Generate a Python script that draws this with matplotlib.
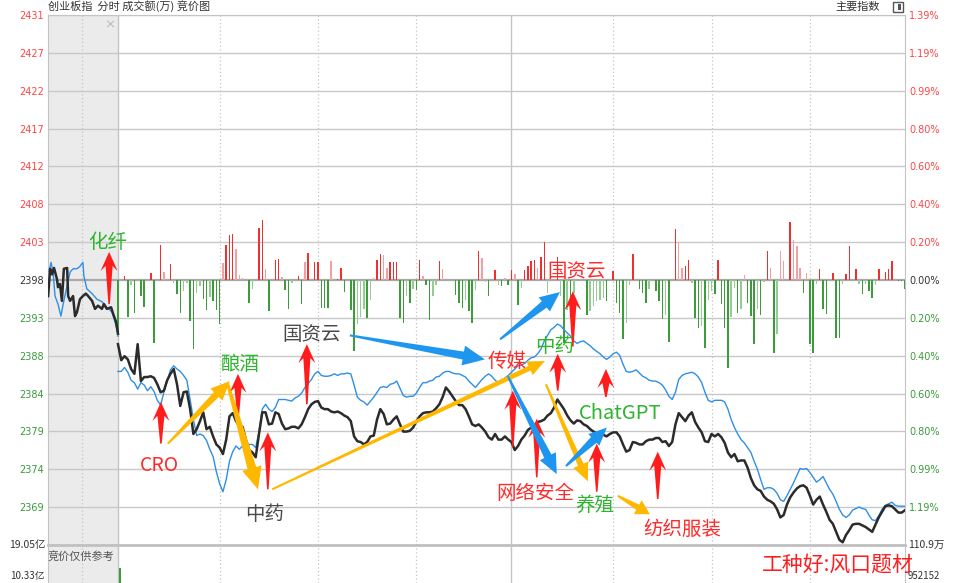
import numpy as np
import matplotlib
matplotlib.use('Agg')
import matplotlib.pyplot as plt
from matplotlib.patches import Polygon, Rectangle

plt.rcParams['font.family'] = ['Noto Sans CJK SC', 'DejaVu Sans']

# reference level (prev close) and one grid step, in index points
PREV_CLOSE = 2398.3
STEP = 4.72

left_labels = ['2431', '2427', '2422', '2417', '2412', '2408', '2403', '2398',
               '2393', '2388', '2384', '2379', '2374', '2369']
right_labels = ['1.39%', '1.19%', '0.99%', '0.80%', '0.60%', '0.40%', '0.20%', '0.00%',
                '0.20%', '0.40%', '0.60%', '0.80%', '0.99%', '1.19%']

# call auction (9:15-9:25), minutes before the open
auction_t = [-21.3, -20.7, -20.1, -19.5, -18.6, -18.3, -17.7, -17.1, -16.5, -15.5,
             -15.2, -14.6, -13.7, -13.1, -12.5, -11.6, -10.7, -9.8, -9.1, -7.9,
             -7.0, -6.1, -4.9, -4.3, -3.4, -2.1, -1.5, -0.6, 0.0]
auction_price = [2396.3, 2399.7, 2399.0, 2399.8, 2398.4, 2397.4, 2397.8, 2395.7, 2399.7, 2399.8,
                 2396.3, 2395.7, 2396.3, 2393.8, 2394.3, 2395.9, 2396.3, 2396.6, 2396.3, 2395.7,
                 2394.7, 2395.1, 2394.7, 2395.3, 2394.7, 2394.9, 2394.1, 2393.1, 2391.6]
auction_avg_t = [-21.0, -20.4, -19.8, -19.2, -18.3, -17.4, -16.8, -16.2, -15.5, -14.6,
                 -13.7, -12.5, -11.6, -10.7, -10.4, -9.5, -7.9, -6.4, -4.9, -3.4,
                 -1.8, -0.3, 0.0]
auction_avg = [2399.4, 2400.5, 2399.3, 2396.3, 2395.3, 2393.8, 2395.1, 2396.3, 2397.6, 2399.3,
               2399.7, 2399.7, 2400.0, 2400.5, 2398.8, 2397.2, 2396.6, 2395.9, 2395.6, 2394.9,
               2394.3, 2392.2, 2391.3]

# session, one value per minute (0 = 9:30, 240 = 15:00)
price = [2390.3, 2388.3, 2388.8, 2388.4, 2387.2, 2386.6, 2390.3, 2385.7, 2386.2, 2386.2,
         2386.3, 2386.1, 2385.3, 2384.3, 2384.5, 2385.8, 2386.6, 2387.2, 2385.3, 2382.6,
         2384.3, 2384.4, 2382.2, 2379.1, 2379.7, 2380.7, 2381.8, 2379.7, 2380.0, 2378.8,
         2377.8, 2377.4, 2376.6, 2378.4, 2381.3, 2381.7, 2380.7, 2380.1, 2380.0, 2378.4,
         2377.1, 2376.8, 2376.2, 2379.1, 2381.8, 2381.8, 2380.3, 2380.4, 2381.8, 2381.6,
         2380.4, 2379.7, 2379.8, 2380.0, 2380.0, 2379.8, 2380.3, 2381.2, 2382.2, 2382.8,
         2383.1, 2383.2, 2382.4, 2382.2, 2382.2, 2381.9, 2381.8, 2381.9, 2381.7, 2381.4,
         2381.2, 2380.7, 2378.8, 2378.2, 2378.1, 2377.8, 2378.1, 2378.8, 2378.9, 2380.9,
         2382.2, 2381.6, 2380.3, 2380.4, 2380.9, 2381.3, 2380.3, 2379.4, 2379.4, 2379.5,
         2379.9, 2380.7, 2381.3, 2381.7, 2381.8, 2381.8, 2381.9, 2382.3, 2382.8, 2383.7,
         2384.9, 2384.4, 2383.8, 2383.2, 2382.7, 2382.7, 2382.2, 2381.3, 2380.3, 2380.1,
         2380.3, 2379.9, 2379.4, 2378.7, 2378.4, 2379.1, 2378.4, 2378.4, 2378.8, 2378.4,
         2378.1, 2377.1, 2377.6, 2378.4, 2378.9, 2379.6, 2379.9, 2380.2, 2380.6, 2380.7,
         2380.9, 2381.4, 2381.7, 2382.4, 2383.4, 2382.8, 2382.2, 2381.4, 2380.8, 2380.4,
         2380.8, 2380.7, 2380.3, 2380.1, 2379.7, 2379.4, 2379.2, 2379.1, 2379.0, 2378.8,
         2379.1, 2379.3, 2379.3, 2378.8, 2377.8, 2376.9, 2377.1, 2378.1, 2378.0, 2377.8,
         2377.8, 2378.2, 2378.4, 2378.4, 2378.6, 2378.6, 2378.1, 2378.2, 2377.6, 2378.1,
         2380.3, 2381.7, 2381.2, 2380.7, 2381.4, 2381.8, 2380.6, 2379.9, 2379.3, 2378.2,
         2378.1, 2379.1, 2378.8, 2379.1, 2378.7, 2378.0, 2376.8, 2376.2, 2376.6, 2375.7,
         2375.8, 2375.8, 2374.9, 2373.6, 2372.7, 2372.2, 2372.0, 2371.3, 2370.9, 2370.7,
         2370.4, 2369.7, 2368.7, 2369.0, 2370.3, 2371.2, 2371.8, 2372.3, 2372.6, 2372.7,
         2372.4, 2371.4, 2370.3, 2370.9, 2371.3, 2370.3, 2369.4, 2368.4, 2367.9, 2366.9,
         2365.9, 2365.6, 2366.5, 2367.1, 2367.8, 2367.9, 2367.9, 2367.7, 2367.5, 2367.2,
         2366.9, 2367.8, 2368.7, 2369.4, 2370.1, 2370.2, 2370.1, 2369.7, 2369.3, 2369.3,
         2369.6]

avg_price = [2386.9, 2386.9, 2387.4, 2386.8, 2385.8, 2385.5, 2384.7, 2385.5, 2385.2, 2384.5,
             2385.0, 2384.4, 2383.3, 2382.7, 2384.3, 2385.7, 2387.1, 2387.6, 2387.2, 2386.9,
             2386.4, 2385.8, 2383.4, 2380.9, 2378.9, 2379.1, 2378.9, 2378.3, 2377.2, 2376.3,
             2374.4, 2372.9, 2371.9, 2373.4, 2375.7, 2376.9, 2377.6, 2377.2, 2377.6, 2377.2,
             2377.8, 2377.8, 2377.4, 2379.4, 2382.2, 2382.8, 2382.2, 2381.9, 2382.4, 2383.4,
             2383.4, 2383.4, 2383.3, 2383.2, 2383.6, 2383.8, 2384.2, 2384.9, 2385.4, 2385.9,
             2386.6, 2386.9, 2386.4, 2386.3, 2386.3, 2386.4, 2386.6, 2386.4, 2386.6, 2386.6,
             2386.7, 2386.6, 2385.2, 2383.7, 2383.3, 2383.1, 2382.7, 2383.2, 2383.7, 2384.3,
             2384.9, 2385.0, 2384.9, 2385.3, 2385.4, 2385.7, 2384.8, 2383.9, 2383.7, 2383.8,
             2383.8, 2384.2, 2384.9, 2385.5, 2385.5, 2385.7, 2385.8, 2386.2, 2386.3, 2386.7,
             2386.9, 2386.9, 2386.7, 2386.6, 2386.6, 2386.4, 2386.2, 2385.7, 2385.3, 2384.9,
             2385.4, 2385.9, 2386.3, 2386.6, 2386.3, 2385.8, 2385.5, 2385.7, 2386.1, 2386.4,
             2386.8, 2387.2, 2387.6, 2387.7, 2387.9, 2388.3, 2388.6, 2388.7, 2389.1, 2389.7,
             2390.7, 2391.4, 2392.1, 2392.4, 2392.8, 2392.6, 2392.1, 2391.7, 2391.3, 2390.7,
             2390.4, 2390.6, 2390.7, 2390.4, 2390.1, 2389.7, 2389.4, 2389.1, 2388.7, 2388.4,
             2388.7, 2389.1, 2389.3, 2388.9, 2387.8, 2386.9, 2386.8, 2386.9, 2387.1, 2386.7,
             2386.3, 2386.1, 2385.8, 2385.7, 2385.7, 2385.5, 2385.2, 2384.6, 2383.8, 2383.4,
             2384.3, 2385.9, 2386.4, 2386.6, 2386.7, 2386.8, 2386.6, 2386.2, 2385.5, 2384.3,
             2383.3, 2383.1, 2383.3, 2383.3, 2383.3, 2383.1, 2382.2, 2380.9, 2379.9, 2379.1,
             2378.4, 2378.0, 2377.4, 2376.8, 2375.7, 2374.7, 2373.4, 2372.2, 2372.4, 2372.4,
             2372.2, 2371.7, 2370.9, 2370.7, 2371.4, 2372.2, 2373.0, 2373.9, 2374.8, 2374.7,
             2374.8, 2374.3, 2373.7, 2373.1, 2373.4, 2373.8, 2373.0, 2372.2, 2371.6, 2370.7,
             2369.7, 2369.0, 2368.7, 2369.0, 2369.6, 2369.8, 2370.0, 2369.8, 2369.7, 2369.0,
             2368.4, 2368.3, 2368.9, 2369.7, 2370.2, 2370.4, 2370.6, 2370.2, 2370.1, 2370.1,
             2370.1]

# red/green bars around the 0.00% line (arbitrary units, one per minute)
flow = [-53, 0, 4, -37, -5, -33, 0, -16, -27, 0,
        7, -63, 0, 35, 8, 0, 16, -3, -14, -33,
        -11, -3, -41, -69, -13, -6, -19, -30, -17, -21,
        -30, -44, 17, 35, 45, 46, 31, 5, 2, 0,
        -23, -9, 0, 52, 60, 11, -31, 0, 20, 21,
        3, -10, -29, -3, 0, 4, -24, 18, 27, 0,
        18, 18, -28, -28, -28, 19, 0, 1, 12, -12,
        0, -30, -71, -44, -37, -29, -38, -20, 2, 20,
        26, 25, 12, 18, 18, 18, -38, -43, -16, -23,
        -9, -10, 20, 4, -5, -40, -16, -5, 19, 11,
        0, 0, 0, -15, -23, -28, -20, -31, -43, -10,
        29, 22, -2, -16, 0, 10, -5, -6, 2, -5,
        10, 6, -25, -8, 10, 14, 19, 20, 12, 23,
        38, -13, 0, 0, 23, -16, -63, -30, -30, -13,
        0, 0, 0, -35, -31, -26, -21, -20, -18, -21,
        0, 9, -23, -33, -59, -43, -5, 26, 0, -9,
        -13, -23, -9, 0, -11, -21, -39, -35, -62, 0,
        51, 38, 12, 14, 20, -3, -38, -48, -46, -68,
        -20, -11, -14, 20, -24, -48, -88, -37, -8, -33,
        -29, 5, -23, -36, -64, -29, -35, -2, 29, 12,
        -73, -54, 29, 19, 0, 58, 40, 34, 12, -13,
        7, -64, -73, -4, 11, -29, -34, 0, 7, -58,
        -58, -4, 6, 34, 0, 11, -4, -14, -4, -11,
        -18, -5, 11, 0, 8, 11, 19, 0, -1, -1,
        -9]

open_vol_t = [0.6]
open_vol = [15]

vgrid_dotted = [-11, 31, 61, 91, 151, 181, 211]
vgrid_solid = [0, 120]

T0, T1 = -21.34, 240.0
Y0, Y1 = PREV_CLOSE - 7 * STEP, PREV_CLOSE + 7 * STEP
PX = (Y1 - Y0) / 530.0   # price units per pixel

RED, GREEN, GRAY = '#ff2a2a', '#2db52d', '#4a4a4a'
YELLOW, BLUE = '#ffb800', '#1e96f0'


def draw_arrow(ax, tail, head, color, w_tail, w_neck, head_w, head_len, sweep=0.0):
    p0 = ax.transData.transform(tail)
    p1 = ax.transData.transform(head)
    d = p1 - p0
    u = d / np.hypot(*d)
    n = np.array([-u[1], u[0]])
    base = p1 - u * head_len
    neck = base + u * sweep
    pts = [p0 + n * w_tail / 2, neck + n * w_neck / 2, base + n * head_w / 2, p1,
           base - n * head_w / 2, neck - n * w_neck / 2, p0 - n * w_tail / 2]
    pts = ax.transData.inverted().transform(np.array(pts))
    ax.add_patch(Polygon(pts, closed=True, facecolor=color, edgecolor='none', zorder=6))


def red_up(ax, t, bottom, top):
    draw_arrow(ax, (t, bottom), (t, top), '#ff1c1c', 1.5, 7, 17, 19, sweep=5)


def main():
    fig = plt.figure(figsize=(9.54, 5.83), dpi=100)
    W, H = 954.0, 583.0
    ax = fig.add_axes([48 / W, 1 - 545 / H, 857 / W, 530 / H])
    axv = fig.add_axes([48 / W, 0, 857 / W, 36 / H])

    for a in (ax, axv):
        a.set_xlim(T0, T1)
        a.axvspan(T0, 0, color='#ebebeb', zorder=0, lw=0)
        for t in vgrid_dotted:
            a.axvline(t, color='#c4c4c4', lw=0.9, ls=(0, (1, 2)), zorder=1)
        for t in vgrid_solid:
            a.axvline(t, color='#c4c4c4', lw=1.0, zorder=1)
        for s in a.spines.values():
            s.set_color('#c4c4c4')
    ax.set_ylim(Y0, Y1)

    levels = [PREV_CLOSE + k * STEP for k in range(7, -7, -1)]
    for lv in levels:
        if abs(lv - PREV_CLOSE) < 1e-6:
            ax.axhline(lv, color='#a8a8a8', lw=1.6, zorder=1)
        else:
            ax.axhline(lv, color='#c8c8c8', lw=1.0, zorder=1)
    ax.spines['bottom'].set_linewidth(2)
    ax.spines['bottom'].set_color('#c0c0c0')

    label_colors = ['#ff4444'] * 7 + ['#333333'] + ['#3a9a3a'] * 6
    ax.set_yticks(levels)
    ax.set_yticklabels(left_labels, fontsize=7, family='DejaVu Sans')
    ax.tick_params(axis='y', length=0, pad=3)
    for lab, c in zip(ax.get_yticklabels(), label_colors):
        lab.set_color(c)
    ax.set_xticks([])

    axr = ax.twinx()
    axr.set_ylim(Y0, Y1)
    axr.set_yticks(levels)
    axr.set_yticklabels(right_labels, fontsize=7, family='DejaVu Sans')
    axr.tick_params(axis='y', length=0, pad=3)
    for lab, c in zip(axr.get_yticklabels(), label_colors):
        lab.set_color(c)
    for s in axr.spines.values():
        s.set_visible(False)

    # flow bars
    t_sess = np.arange(len(price))
    fl = np.array(flow, dtype=float)
    cols = []
    for i, v in enumerate(fl):
        prev = abs(fl[i - 1]) if i > 0 else 0
        strong = abs(v) >= prev
        if v >= 0:
            cols.append('#ee3030' if strong else '#f5a0a0')
        else:
            cols.append('#3c9c3c' if strong else '#94cc94')
    ax.bar(np.arange(len(fl)), fl * PX, bottom=PREV_CLOSE, width=0.45,
           color=cols, zorder=2, lw=0)

    ax.plot(auction_avg_t, auction_avg, color='#2e8fe6', lw=1.0, zorder=4)
    ax.plot(auction_t, auction_price, color='#2b2b2b', lw=1.8, zorder=5)
    ax.plot(t_sess, avg_price, color='#2e8fe6', lw=1.0, zorder=4)
    ax.plot(t_sess, price, color='#2b2b2b', lw=1.8, zorder=5)

    ax.text(-2.7, 2430.2, '×', color='#a8a8a8', fontsize=8, ha='center', va='center')

    # annotations (nudged down a little: CJK glyph boxes sit high)
    txt = dict(ha='center', va='center', zorder=7)
    fs = 14
    dy = -0.45
    ax.text(-3.0, 2403.4 + dy, '化纤', color=GREEN, fontsize=fs, **txt)
    ax.text(12.5, 2375.6 + dy, 'CRO', color=RED, fontsize=fs, **txt)
    ax.text(37.2, 2388.2 + dy, '酿酒', color=GREEN, fontsize=fs, **txt)
    ax.text(44.8, 2369.5 + dy, '中药', color=GRAY, fontsize=fs, **txt)
    ax.text(59.1, 2391.9 + dy, '国资云', color=GRAY, fontsize=fs, **txt)
    ax.text(118.6, 2388.6 + dy, '传媒', color=RED, fontsize=fs, **txt)
    ax.text(139.9, 2399.8 + dy, '国资云', color=RED, fontsize=fs, **txt)
    ax.text(133.2, 2390.4 + dy, '中药', color=GREEN, fontsize=fs, **txt)
    ax.text(153.0, 2382.1 + dy, 'ChatGPT', color=GREEN, fontsize=14.5, **txt)
    ax.text(127.1, 2372.1 + dy, '网络安全', color=RED, fontsize=fs, **txt)
    ax.text(145.4, 2370.7 + dy, '养殖', color=GREEN, fontsize=fs, **txt)
    ax.text(172.0, 2367.6 + dy, '纺织服装', color=RED, fontsize=fs, **txt)

    red_up(ax, -2.7, 2395.3, 2401.8)
    red_up(ax, 13.1, 2377.9, 2383.1)
    red_up(ax, 36.6, 2381.0, 2386.6)
    red_up(ax, 45.7, 2372.2, 2379.3)
    red_up(ax, 57.6, 2382.8, 2390.3)
    red_up(ax, 138.7, 2390.0, 2396.9)
    red_up(ax, 134.1, 2384.5, 2389.1)
    red_up(ax, 148.8, 2383.7, 2387.2)
    red_up(ax, 120.4, 2377.5, 2384.5)
    red_up(ax, 127.7, 2373.7, 2381.0)
    red_up(ax, 146.0, 2371.9, 2377.9)
    red_up(ax, 164.6, 2371.0, 2376.9)

    draw_arrow(ax, (15.2, 2377.9), (34.1, 2385.7), YELLOW, 2, 7, 17, 19)
    draw_arrow(ax, (33.5, 2385.3), (42.7, 2372.2), YELLOW, 3, 9, 20, 22)
    draw_arrow(ax, (47.0, 2372.2), (130.2, 2388.2), YELLOW, 2, 5, 15, 17)
    draw_arrow(ax, (130.5, 2385.3), (143.3, 2373.2), YELLOW, 2, 6, 16, 18)
    draw_arrow(ax, (152.4, 2371.4), (162.2, 2369.1), YELLOW, 2, 6, 16, 14)

    draw_arrow(ax, (70.7, 2391.4), (111.9, 2388.4), BLUE, 2, 8, 20, 22)
    draw_arrow(ax, (116.5, 2390.9), (134.8, 2396.8), BLUE, 2, 8, 18, 20)
    draw_arrow(ax, (118.9, 2386.3), (133.8, 2374.1), BLUE, 2, 8, 18, 20)
    draw_arrow(ax, (136.6, 2375.1), (149.1, 2379.9), BLUE, 2, 8, 16, 18)

    # lower panel
    axv.set_ylim(0, 36)
    axv.bar(open_vol_t, open_vol, width=0.5, color='#3c9c3c', lw=0)
    axv.set_xticks([])
    axv.set_yticks([])
    axv.spines['top'].set_visible(False)
    axv.spines['bottom'].set_visible(False)
    axv.text(0.0, 0.75, '竞价仅供参考', transform=axv.transAxes, fontsize=8,
             color='#555555', va='center')

    # header and side texts
    fig.text(48 / W, 1 - 6 / H, '创业板指  分时 成交额(万) 竞价图', fontsize=8,
             color='#333333', va='center')
    fig.text(880 / W, 1 - 7 / H, '主要指数', fontsize=8, color='#333333',
             ha='right', va='center')
    fig.patches.append(Rectangle((893 / W, 1 - 12 / H), 10 / W, 10 / H, transform=fig.transFigure,
                                 facecolor='white', edgecolor='#555555', lw=1))
    fig.patches.append(Rectangle((898 / W, 1 - 10 / H), 3 / W, 6 / H, transform=fig.transFigure,
                                 facecolor='#555555', edgecolor='none'))
    fig.text(45 / W, 1 - 545 / H, '19.05亿', fontsize=7.5, color='#333333',
             ha='right', va='center')
    fig.text(45 / W, 1 - 576 / H, '10.33亿', fontsize=7, color='#333333',
             ha='right', va='center')
    fig.text(908 / W, 1 - 545 / H, '110.9万', fontsize=7.5, color='#333333',
             ha='left', va='center')
    fig.text(908 / W, 1 - 576 / H, '952152', fontsize=7, color='#333333',
             ha='left', va='center')
    fig.text(838 / W, 1 - 565 / H, '工种好:风口题材', fontsize=15, color='#ff1c1c',
             ha='center', va='center', zorder=8)

    fig.savefig('out.png', dpi=100)


if __name__ == "__main__":
    main()
